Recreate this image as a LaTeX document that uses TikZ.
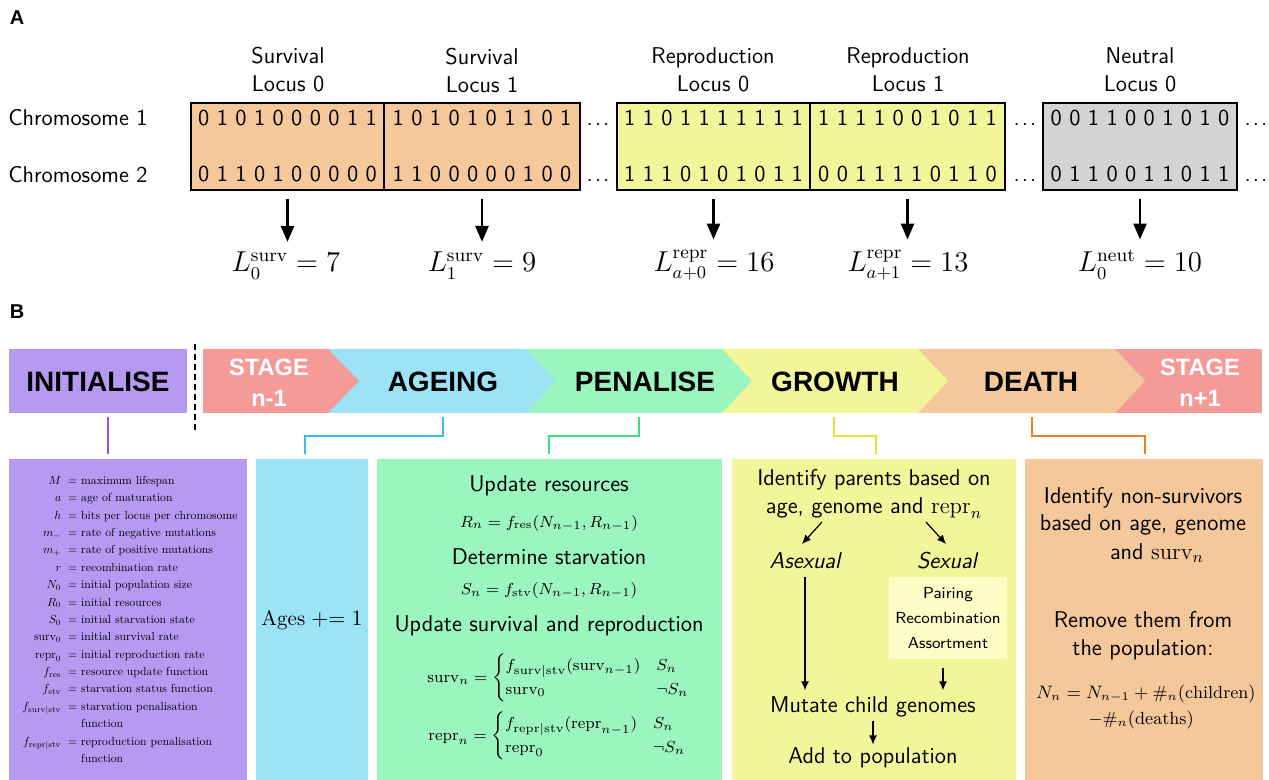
\documentclass[tikz,border=0pt]{standalone}
\usepackage{amsmath}
\usepackage{graphicx}
\usepackage{fontspec}
\newfontfamily\bannerfont{Liberation Sans}
\usetikzlibrary{arrows.meta}
\definecolor{cPurple}{HTML}{B899F2}
\definecolor{cSalmon}{HTML}{F49B98}
\definecolor{cBlue}{HTML}{9CE3F5}
\definecolor{cGreen}{HTML}{9BF5BE}
\definecolor{cYellow}{HTML}{F2F59A}
\definecolor{cPeach}{HTML}{F5C89B}
\definecolor{cGray}{HTML}{D3D3D3}
\definecolor{cSub}{HTML}{FCFCC6}
\definecolor{lPurple}{HTML}{8E55E8}
\definecolor{lBlue}{HTML}{38C0E8}
\definecolor{lGreen}{HTML}{3DE07F}
\definecolor{lYellow}{HTML}{E2E230}
\definecolor{lOrange}{HTML}{E8802A}
\tikzset{
  sans/.style={font=\fontsize{11.4}{14}\selectfont\sffamily, inner sep=0},
  hdr/.style={sans, align=center},
  bits/.style={sans, anchor=base},
  locbox/.style={draw=black, line width=1pt, inner sep=0, minimum height=43.5pt},
  lab/.style={font=\fontsize{13.5}{15.5}\selectfont, inner sep=0, anchor=base},
  bigarrow/.style={line width=1.3pt, -{Triangle[width=6.5pt,length=8pt]}},
  banner/.style={font=\bannerfont\bfseries\fontsize{14}{16}\selectfont, inner sep=0},
  stage/.style={font=\bannerfont\bfseries\fontsize{11.8}{15.5}\selectfont, text=white, align=center, inner sep=0},
  conn/.style={line width=0.8pt},
  thinarrow/.style={line width=0.6pt, -{Latex[length=4.5pt,width=4pt]}},
  eq/.style={font=\fontsize{8.3}{10}\selectfont, inner sep=0},
  ageseq/.style={font=\fontsize{10.5}{13}\selectfont, inner sep=0},
  smalleq/.style={font=\fontsize{8}{9.8}\selectfont, inner sep=0},
  deatheq/.style={font=\fontsize{8.8}{10.5}\selectfont, inner sep=0},
  plabel/.style={font=\bannerfont\bfseries\fontsize{10}{12}\selectfont, inner sep=0},
}
\begin{document}
\begin{tikzpicture}[x=0.5pt,y=-0.5pt]
\useasboundingbox (0,0) rectangle (1269,780);

% ---------------- Panel A ----------------
\node[plabel] (labA) at (17,18) {A};
\node[sans, anchor=west] (chr1) at (8,118) {Chromosome 1};
\node[sans, anchor=west] (chr2) at (8,175) {Chromosome 2};

\node[hdr] (hs0) at (288,70) {Survival\\Locus 0};
\node[hdr] (hs1) at (482,70) {Survival\\Locus 1};
\node[hdr] (hr0) at (713,70) {Reproduction\\Locus 0};
\node[hdr] (hr1) at (908,70) {Reproduction\\Locus 1};
\node[hdr] (hn0) at (1140,70) {Neutral\\Locus 0};

\node[locbox, fill=cPeach, minimum width=96.5pt] (bs0) at (287.5,146.5) {};
\node[locbox, fill=cPeach, minimum width=98pt] (bs1) at (482,146.5) {};
\node[locbox, fill=cYellow, minimum width=96.5pt] (br0) at (713.5,146.5) {};
\node[locbox, fill=cYellow, minimum width=97.5pt] (br1) at (907.5,146.5) {};
\node[locbox, fill=cGray, minimum width=97pt] (bn0) at (1140,146.5) {};

\node[bits] (s0a) at (287.5,125.5) {0 1 0 1 0 0 0 0 1 1};
\node[bits] (s0b) at (287.5,181.5) {0 1 1 0 1 0 0 0 0 0};
\node[bits] (s1a) at (482,125.5) {1 0 1 0 1 0 1 1 0 1};
\node[bits] (s1b) at (482,181.5) {1 1 0 0 0 0 0 1 0 0};
\node[bits] (r0a) at (713.5,125.5) {1 1 0 1 1 1 1 1 1 1};
\node[bits] (r0b) at (713.5,181.5) {1 1 1 0 1 0 1 0 1 1};
\node[bits] (r1a) at (907.5,125.5) {1 1 1 1 0 0 1 0 1 1};
\node[bits] (r1b) at (907.5,181.5) {0 0 1 1 1 1 0 1 1 0};
\node[bits] (n0a) at (1140,125.5) {0 0 1 1 0 0 1 0 1 0};
\node[bits] (n0b) at (1140,181.5) {0 1 1 0 0 1 1 0 1 1};

\node[bits] (dt1a) at (598,125.5) {.\kern1pt.\kern1pt.};
\node[bits] (dt1b) at (598,181.5) {.\kern1pt.\kern1pt.};
\node[bits] (dt2a) at (1025,125.5) {.\kern1pt.\kern1pt.};
\node[bits] (dt2b) at (1025,181.5) {.\kern1pt.\kern1pt.};
\node[bits] (dt3a) at (1256,125.5) {.\kern1pt.\kern1pt.};
\node[bits] (dt3b) at (1256,181.5) {.\kern1pt.\kern1pt.};

\node[lab] (Ls0) at (286,272) {$L_0^{\mathrm{surv}} = 7$};
\node[lab] (Ls1) at (482,272) {$L_1^{\mathrm{surv}} = 9$};
\node[lab] (Lr0) at (714,272) {$L_{a+0}^{\mathrm{repr}} = 16$};
\node[lab] (Lr1) at (908,272) {$L_{a+1}^{\mathrm{repr}} = 13$};
\node[lab] (Ln0) at (1140,272) {$L_0^{\mathrm{neut}} = 10$};

\foreach \b/\l in {bs0/Ls0, bs1/Ls1, br0/Lr0, br1/Lr1, bn0/Ln0}
  \draw[bigarrow, shorten <=4pt, shorten >=5pt] (\b.south) -- (\b.south |- \l.north);

% ---------------- Panel B ----------------
\node[plabel] (labB) at (17,312) {B};

\fill[cPurple] (9,349) rectangle (187,413);
\node[banner] (init) at (98,382) {INITIALISE};
\draw[line width=0.6pt, dash pattern=on 3pt off 2pt] (195,344) -- (195,432);

\fill[cSalmon] (1115,349) rectangle (1262,413);
\fill[cPeach] (918,349) -- (1115,349) -- (1145,381) -- (1115,413) -- (918,413) -- cycle;
\fill[cYellow] (722,349) -- (918,349) -- (948,381) -- (918,413) -- (722,413) -- cycle;
\fill[cGreen] (526,349) -- (722,349) -- (752,381) -- (722,413) -- (526,413) -- cycle;
\fill[cBlue] (328,349) -- (526,349) -- (555,381) -- (526,413) -- (328,413) -- cycle;
\fill[cSalmon] (203,349) -- (328,349) -- (359,381) -- (328,413) -- (203,413) -- cycle;

\node[stage] (stA) at (269,382.5) {STAGE\\n-1};
\node[banner] (age) at (443,382) {AGEING};
\node[banner] (pen) at (645,382) {PENALISE};
\node[banner] (gro) at (835,382) {GROWTH};
\node[banner] (dea) at (1031,382) {DEATH};
\node[stage] (stB) at (1200,382.5) {STAGE\\n+1};

% connectors
\coordinate (cI1) at (108,417); \coordinate (cI2) at (108,454);
\coordinate (cA1) at (443,417); \coordinate (cA2) at (305,454);
\coordinate (cP1) at (639,417); \coordinate (cP2) at (549,454);
\coordinate (cG1) at (834,417); \coordinate (cG2) at (876,454);
\coordinate (cD1) at (1032,417); \coordinate (cD2) at (1145,454);
\draw[conn, lPurple] (cI1) -- (cI2);
\draw[conn, lBlue] (cA1) -- ++(0,19) -| (cA2);
\draw[conn, lGreen] (cP1) -- ++(0,19) -| (cP2);
\draw[conn, lYellow] (cG1) -- ++(0,19) -| (cG2);
\draw[conn, lOrange] (cD1) -- ++(0,19) -| (cD2);

% panels
\fill[cPurple] (9,459) rectangle (247,780);
\fill[cBlue] (256,459) rectangle (368,780);
\fill[cGreen] (377,459) rectangle (722,780);
\fill[cYellow] (732,459) rectangle (1016,780);
\fill[cPeach] (1025,459) rectangle (1263,780);

% initialise list
\node[anchor=west, inner sep=0] (initlist) at (22,620) {\scalebox{0.585}{%
\fontsize{10}{14.85}\selectfont
\begin{tabular}{@{}r@{\hspace{0.6em}}l@{}}
$M$ & $=$ maximum lifespan\\
$a$ & $=$ age of maturation\\
$h$ & $=$ bits per locus per chromosome\\
$m_-$ & $=$ rate of negative mutations\\
$m_+$ & $=$ rate of positive mutations\\
$r$ & $=$ recombination rate\\
$N_0$ & $=$ initial population size\\
$R_0$ & $=$ initial resources\\
$S_0$ & $=$ initial starvation state\\
$\mathrm{surv}_0$ & $=$ initial survival rate\\
$\mathrm{repr}_0$ & $=$ initial reproduction rate\\
$f_{\mathrm{res}}$ & $=$ resource update function\\
$f_{\mathrm{stv}}$ & $=$ starvation status function\\
$f_{\mathrm{surv|stv}}$ & $=$ starvation penalisation\\
 & \phantom{$=$} function\\
$f_{\mathrm{repr|stv}}$ & $=$ reproduction penalisation\\
 & \phantom{$=$} function
\end{tabular}}};

% ageing
\node[ageseq] (ages) at (312,620) {$\mathrm{Ages} \mathrel{+}= 1$};

% penalise
\node[sans] (pUR) at (549,486) {Update resources};
\node[eq] (pRn) at (549,523) {$R_n = f_{\mathrm{res}}(N_{n-1}, R_{n-1})$};
\node[sans] (pDS) at (549,557) {Determine starvation};
\node[eq] (pSn) at (549,590) {$S_n = f_{\mathrm{stv}}(N_{n-1}, R_{n-1})$};
\node[sans] (pUS) at (549,626) {Update survival and reproduction};
\node[smalleq, anchor=west] (pSurv) at (427,678) {$\mathrm{surv}_n = \begin{cases} f_{\mathrm{surv|stv}}(\mathrm{surv}_{n-1}) & S_n\\ \mathrm{surv}_0 & \neg S_n\end{cases}$};
\node[smalleq, anchor=west] (pRepr) at (428,736) {$\mathrm{repr}_n = \begin{cases} f_{\mathrm{repr|stv}}(\mathrm{repr}_{n-1}) & S_n\\ \mathrm{repr}_0 & \neg S_n\end{cases}$};

% growth
\node[sans, align=center] (gId) at (874,494) {Identify parents based on\\age, genome and $\mathrm{repr}_n$};
\node[sans, font=\fontsize{11.4}{14}\selectfont\sffamily\itshape] (gAs) at (805,561) {Asexual};
\node[sans, font=\fontsize{11.4}{14}\selectfont\sffamily\itshape] (gSx) at (947,561) {Sexual};
\node[fill=cSub, minimum width=59pt, minimum height=41pt, inner sep=0, align=center,
      font=\fontsize{8}{12.5}\selectfont\sffamily] (gBox) at (948,618) {Pairing\\Recombination\\Assortment};
\node[sans] (gMut) at (873,707) {Mutate child genomes};
\node[sans] (gAdd) at (873,758) {Add to population};
\coordinate (ga1) at (822,522); \coordinate (ga2) at (802,544);
\coordinate (gb1) at (926,522); \coordinate (gb2) at (946,544);
\coordinate (gbS) at ([xshift=-2.5pt]gBox.south);
\draw[thinarrow] (ga1) -- (ga2);
\draw[thinarrow] (gb1) -- (gb2);
\draw[thinarrow, shorten <=4pt, shorten >=3pt] (gAs.south) -- (gAs.south |- gMut.north);
\draw[thinarrow, shorten <=4.5pt, shorten >=3pt] (gbS) -- (gbS |- gMut.north);
\draw[thinarrow, shorten <=1.5pt, shorten >=1.5pt] (gMut.south) -- (gAdd.north);

% death
\node[sans] (dI1) at (1143,498) {Identify non-survivors};
\node[sans] (dI2) at (1143,525) {based on age, genome};
\node[sans] (dI3) at (1157,553) {and $\mathrm{surv}_n$};
\node[sans, align=center] (dRm) at (1143,636) {Remove them from\\the population:};
\node[deatheq] (dN1) at (1146,694) {$N_n = N_{n-1} + \#_n(\mathrm{children})$};
\node[deatheq] (dN2) at (1141,720) {$-\#_n(\mathrm{deaths})$};
\end{tikzpicture}
\end{document}
